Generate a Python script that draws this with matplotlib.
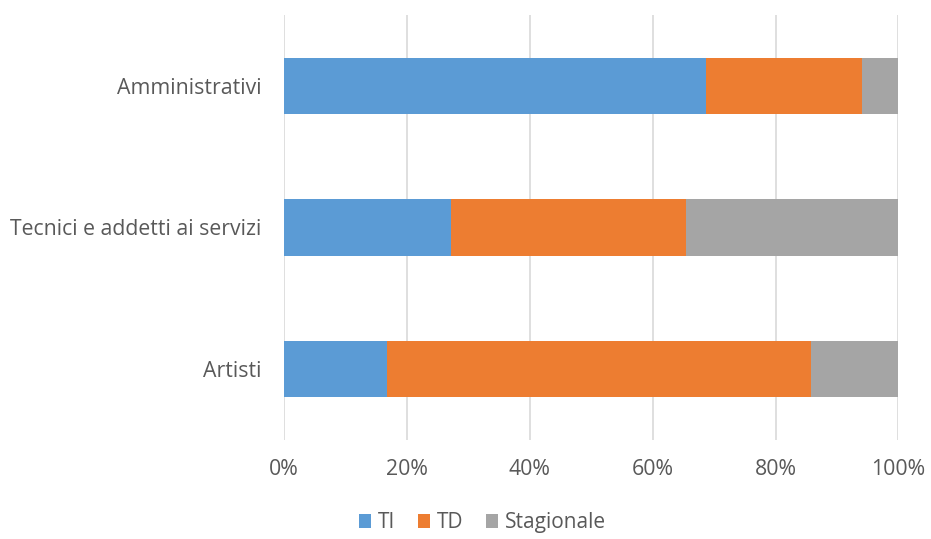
import matplotlib.pyplot as plt
from matplotlib.ticker import PercentFormatter

# categories bottom to top
categories = ["Artisti", "Tecnici e addetti ai servizi", "Amministrativi"]
ti = [16.7, 27.2, 68.7]
td = [69.0, 38.3, 25.4]
stagionale = [14.3, 34.5, 5.9]

series = [("TI", ti, "#5B9BD5"),
          ("TD", td, "#ED7D31"),
          ("Stagionale", stagionale, "#A5A5A5")]

TEXT = "#595959"
plt.rcParams["font.family"] = ["Open Sans", "DejaVu Sans"]

fig = plt.figure(figsize=(9.31, 5.39), dpi=100)
ax = fig.add_axes([0.305, 0.184, 0.66, 0.788])

left = [0.0] * len(categories)
for name, vals, color in series:
    ax.barh(categories, vals, left=left, height=0.4, color=color,
            label=name, zorder=3)
    left = [l + v for l, v in zip(left, vals)]

ax.set_xlim(0, 100)
ax.set_ylim(-0.5, 2.5)
ax.set_xticks(range(0, 101, 20))
ax.xaxis.set_major_formatter(PercentFormatter(decimals=0))
ax.grid(axis="x", color="#D9D9D9", linewidth=1.2, zorder=0)
for s in ax.spines.values():
    s.set_visible(False)
ax.tick_params(length=0, labelsize=15.3, colors=TEXT)
ax.tick_params(axis="x", pad=14)
ax.tick_params(axis="y", pad=16)

ax.legend(loc="center", bbox_to_anchor=(0.518, 0.03), bbox_transform=fig.transFigure,
          ncol=3, frameon=False, fontsize=15, labelcolor=TEXT,
          handlelength=0.6, handleheight=0.6, handletextpad=0.3, columnspacing=1.1)

fig.savefig("out.png", dpi=100)
